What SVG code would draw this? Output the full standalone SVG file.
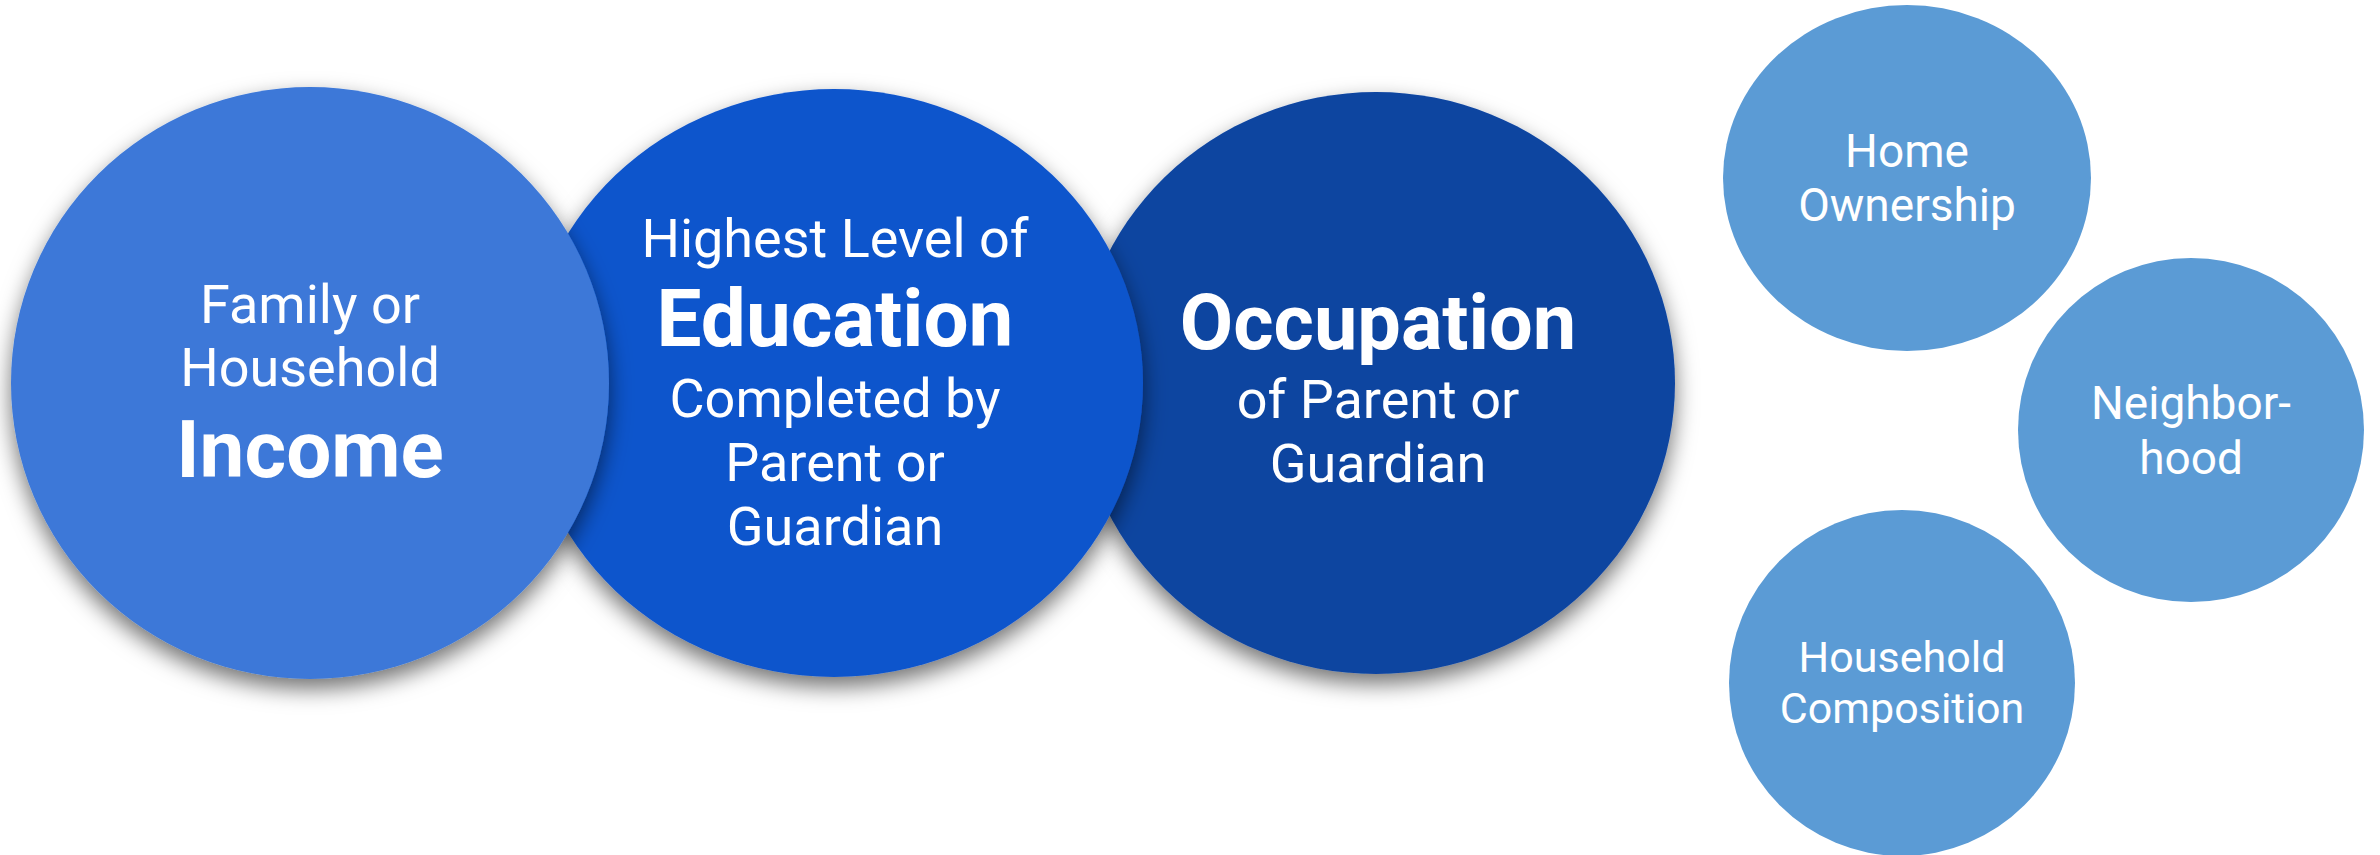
<svg xmlns="http://www.w3.org/2000/svg" width="2380" height="855" viewBox="0 0 2380 855">
  <style>
    .t { font-family: Roboto, "Liberation Sans", sans-serif; fill: #ffffff; text-anchor: middle; }
    .big { font-size: 54px; font-weight: 400; }
    .bold { font-size: 80px; font-weight: 700; }
    .small { font-size: 46px; font-weight: 400; }
    .smaller { font-size: 43px; font-weight: 400; }
  </style>
  <defs>
    <filter id="shadow" x="-20%" y="-20%" width="140%" height="145%">
      <feDropShadow dx="0" dy="10" stdDeviation="11" flood-color="#000000" flood-opacity="0.55"/>
    </filter>
  </defs>
  <rect x="0" y="0" width="2380" height="855" fill="#ffffff"/>
  <g id="connectors"></g>

  <g id="occupation">
    <ellipse cx="1376" cy="383" rx="299" ry="291" fill="#0B44A0" filter="url(#shadow)"/>
    <text class="t bold" x="1378" y="349" style="font-size:77.5px">Occupation</text>
    <text class="t big" x="1378" y="418">of Parent or</text>
    <text class="t big" x="1378" y="482">Guardian</text>
  </g>

  <g id="education">
    <ellipse cx="834" cy="383" rx="309" ry="294" fill="#1155CC" filter="url(#shadow)"/>
    <text class="t big" x="835" y="257">Highest Level of</text>
    <text class="t bold" x="835" y="346">Education</text>
    <text class="t big" x="835" y="417">Completed by</text>
    <text class="t big" x="835" y="481">Parent or</text>
    <text class="t big" x="835" y="545">Guardian</text>
  </g>

  <g id="income">
    <ellipse cx="310" cy="383" rx="299" ry="296" fill="#3C78D8" filter="url(#shadow)"/>
    <text class="t big" x="310" y="323">Family or</text>
    <text class="t big" x="310" y="386">Household</text>
    <text class="t bold" x="310" y="477">Income</text>
  </g>

  <g id="home-ownership">
    <ellipse cx="1907" cy="178" rx="184" ry="173" fill="#5B9BD5"/>
    <text class="t small" x="1907" y="167">Home</text>
    <text class="t small" x="1907" y="221">Ownership</text>
  </g>

  <g id="neighborhood">
    <ellipse cx="2191" cy="430" rx="173" ry="172" fill="#5B9BD5"/>
    <text class="t small" x="2191" y="419">Neighbor-</text>
    <text class="t small" x="2191" y="474">hood</text>
  </g>

  <g id="household-composition">
    <ellipse cx="1902" cy="683" rx="173" ry="173" fill="#5B9BD5"/>
    <text class="t smaller" x="1902" y="672">Household</text>
    <text class="t smaller" x="1902" y="723">Composition</text>
  </g>
</svg>
